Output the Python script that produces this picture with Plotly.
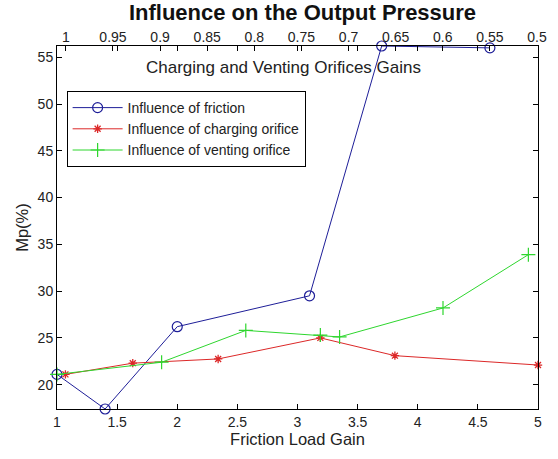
import plotly.graph_objects as go

# Data
fric_x = [1.0, 1.40, 2.0, 3.10, 3.70, 4.60]
fric_y = [21.1, 17.4, 26.2, 29.5, 56.2, 56.0]

charg_x = [1.07, 1.63, 2.34, 3.19, 3.81, 5.0]
charg_y = [21.1, 22.3, 22.75, 25.0, 23.1, 22.1]

vent_x = [1.0, 1.87, 2.57, 3.19, 3.35, 4.21, 4.92]
vent_y = [21.1, 22.4, 25.8, 25.3, 25.1, 28.2, 33.9]

bottom_ticks = [1, 1.5, 2, 2.5, 3, 3.5, 4, 4.5, 5]
bottom_labels = ["1", "1.5", "2", "2.5", "3", "3.5", "4", "4.5", "5"]
top_ticks = [1, 0.95, 0.9, 0.85, 0.8, 0.75, 0.7, 0.65, 0.6, 0.55, 0.5]
top_labels = ["1", "0.95", "0.9", "0.85", "0.8", "0.75", "0.7", "0.65", "0.6", "0.55", "0.5"]
y_ticks = [20, 25, 30, 35, 40, 45, 50, 55]

FONT = "Liberation Sans, Arial, sans-serif"
BLUE = "#1e1e98"
RED = "#dc2828"
GREEN = "#2ed62e"
TXT = "#222222"

fig = go.Figure()
fig.add_trace(go.Scatter(
    x=fric_x, y=fric_y, mode="lines+markers", name="Influence of friction",
    line=dict(color=BLUE, width=1),
    marker=dict(symbol="circle-open", size=10, color=BLUE, line=dict(width=1.2)),
    cliponaxis=False))
fig.add_trace(go.Scatter(
    x=charg_x, y=charg_y, mode="lines+markers", name="Influence of charging orifice",
    line=dict(color=RED, width=1),
    marker=dict(symbol="asterisk-open", size=7, color=RED, line=dict(width=1.3, color=RED)),
    cliponaxis=False))
fig.add_trace(go.Scatter(
    x=vent_x, y=vent_y, mode="lines+markers", name="Influence of venting orifice",
    line=dict(color=GREEN, width=1),
    marker=dict(symbol="cross-thin-open", size=10, color=GREEN, line=dict(width=1.2, color=GREEN)),
    cliponaxis=False))
# invisible trace to anchor the top axis
fig.add_trace(go.Scatter(x=[top_ticks[0], top_ticks[-1]], y=[30, 30], xaxis="x2",
                         mode="markers", marker=dict(opacity=0), showlegend=False,
                         hoverinfo="skip"))

fig.update_layout(
    width=558, height=459,
    margin=dict(l=57, r=11, t=46, b=50),
    paper_bgcolor="white", plot_bgcolor="white",
    font=dict(family=FONT, size=14, color=TXT),
    title=dict(text="<b>Influence on the Output Pressure</b>", x=302.5 / 558, xanchor="center",
               y=1 - 12.5 / 459, yanchor="middle", font=dict(size=22, color="#111", family=FONT)),
    xaxis=dict(range=[1, 5], tickvals=bottom_ticks, ticktext=bottom_labels,
               ticks="inside", ticklen=5, tickcolor="black", mirror="ticks",
               showline=True, linecolor="black", linewidth=1, showgrid=False, zeroline=False,
               title=dict(text="Friction Load Gain", font=dict(size=16.5), standoff=2),
               tickfont=dict(size=14)),
    xaxis2=dict(overlaying="x", side="top", range=[1.0094, 0.499],
                tickvals=top_ticks, ticktext=top_labels, ticks="inside", ticklen=5,
                tickcolor="black", showline=False, showgrid=False, zeroline=False,
                tickfont=dict(size=14)),
    yaxis=dict(range=[17.4, 56.2], tickvals=y_ticks, ticks="inside", ticklen=5,
               tickcolor="black", mirror="ticks", showline=True, linecolor="black",
               linewidth=1, showgrid=False, zeroline=False,
               title=dict(text="Mp(%)", font=dict(size=16.5), standoff=4),
               tickfont=dict(size=14)),
    legend=dict(x=0.02, y=0.876, xanchor="left", yanchor="top",
                bordercolor="black", borderwidth=1, bgcolor="white",
                font=dict(size=14, family=FONT, color=TXT), itemwidth=50,
                tracegroupgap=0),
    annotations=[dict(text="Charging and Venting Orifices Gains", xref="paper", yref="paper",
                      x=(287.5 - 57) / 490, y=(409 - 67) / 363, xanchor="center", yanchor="middle",
                      showarrow=False, font=dict(size=17, family=FONT, color=TXT))],
    showlegend=True,
)

fig.write_html("out.html")
